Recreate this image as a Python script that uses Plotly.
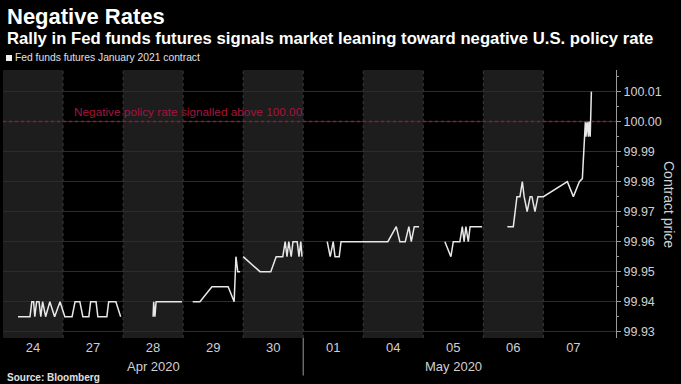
import plotly.graph_objects as go

# ---- data ----
day_labels = ["24", "27", "28", "29", "30", "01", "04", "05", "06", "07"]
month_labels = ["Apr 2020", "May 2020"]
month_first_day = [0, 5]      # index of first trading day of each month
month_day_count = [5, 5]
shaded_days = [0, 2, 4, 6, 8]  # alternating session shading
threshold = 100.00
threshold_label = "Negative policy rate signalled above 100.00"
series_name = "Fed funds futures January 2021 contract"
y_ticks = [99.93, 99.94, 99.95, 99.96, 99.97, 99.98, 99.99, 100.00, 100.01]

# position in trading-day units (0 = start of Apr 24 session)
t = [0.25, 0.45, 0.48, 0.51, 0.53, 0.56, 0.60, 0.63, 0.66, 0.71, 0.78, 0.86, 0.95, 1.03,
     1.15, 1.20, 1.28, 1.33, 1.43, 1.46, 1.55, 1.58, 1.73, 1.76, 1.88, 1.96,
     None,
     2.50, 2.51, 2.53, 2.55, 2.58, 2.98,
     None,
     3.16, 3.28, 3.48, 3.75, 3.85, 3.88, 3.91, 3.95,
     None,
     4.00, 4.28, 4.46, 4.55, 4.66, 4.70, 4.73, 4.76, 4.80, 4.83, 4.90, 4.93, 4.96, 4.98,
     None,
     5.40, 5.45, 5.50, 5.53, 5.60, 5.63, 6.41, 6.55, 6.61, 6.70, 6.76, 6.80, 6.85, 6.93,
     None,
     7.36, 7.46, 7.50, 7.61, 7.65, 7.68, 7.71, 7.75, 7.78, 7.98,
     None,
     8.40, 8.50, 8.56, 8.61, 8.65, 8.68, 8.73, 8.78, 8.81, 8.86, 8.91, 9.00, 9.40, 9.50,
     9.60, 9.65, 9.66, 9.70, 9.71, 9.73, 9.75, 9.76, 9.78, 9.80]
price = [99.935, 99.935, 99.94, 99.94, 99.935, 99.94, 99.94, 99.935, 99.94, 99.935, 99.94, 99.935,
         99.94, 99.935, 99.935, 99.94, 99.94, 99.935, 99.935, 99.94, 99.94, 99.935, 99.935, 99.94,
         99.94, 99.935,
         None,
         99.935, 99.94, 99.935, 99.94, 99.94, 99.94,
         None,
         99.94, 99.94, 99.945, 99.945, 99.94, 99.955, 99.95, 99.95,
         None,
         99.955, 99.95, 99.95, 99.955, 99.955, 99.96, 99.955, 99.96, 99.955, 99.96, 99.96, 99.955,
         99.96, 99.955,
         None,
         99.96, 99.955, 99.96, 99.955, 99.955, 99.96, 99.96, 99.965, 99.96, 99.96, 99.965, 99.96,
         99.965, 99.965,
         None,
         99.96, 99.955, 99.96, 99.96, 99.965, 99.96, 99.965, 99.96, 99.965, 99.965,
         None,
         99.965, 99.965, 99.975, 99.975, 99.98, 99.975, 99.97, 99.975, 99.975, 99.97, 99.975,
         99.975, 99.98, 99.975, 99.98, 99.981, 99.985, 100.0, 99.995, 100.0, 99.995, 100.0,
         99.995, 100.01]

# ---- figure ----
BG = "#000000"
TXT = "#d0d0d0"
FONT = "Liberation Sans, Arial, sans-serif"
FONT_B = "Liberation Sans, Arial, sans-serif"

fig = go.Figure()
fig.add_trace(go.Scatter(x=t, y=price, mode="lines", connectgaps=False, name=series_name,
                         line=dict(color="#e8e8e8", width=1.5), showlegend=False,
                         hoverinfo="skip"))

shapes = []
for d in shaded_days:
    shapes.append(dict(type="rect", xref="x", yref="paper", x0=d, x1=d + 1, y0=0, y1=1,
                       fillcolor="#1d1d1d", line=dict(width=0), layer="below"))
for d in range(1, len(day_labels)):
    shapes.append(dict(type="line", xref="x", yref="paper", x0=d, x1=d, y0=0, y1=1,
                       line=dict(color="#3a3a3a", width=1, dash="dot"), layer="below"))
shapes.append(dict(type="line", xref="paper", yref="y", x0=0, x1=1, y0=threshold, y1=threshold,
                   line=dict(color="#8c1d3e", width=1.5, dash="dot")))
# month separator below axis
shapes.append(dict(type="line", xref="x", yref="paper", x0=month_first_day[1], x1=month_first_day[1],
                   y0=0, y1=-0.14, line=dict(color="#9a9a9a", width=1)))
# legend swatch
shapes.append(dict(type="rect", xref="paper", yref="paper",
                   x0=(6 - 3) / 613, x1=(12 - 3) / 613, y0=(338 - 61) / 268, y1=(338 - 55) / 268,
                   fillcolor="#f0f0f0", line=dict(width=0)))
fig.update_layout(shapes=shapes)

ann = []
ann.append(dict(text="<b>Negative Rates</b>", xref="paper", yref="paper", x=0, y=1.198,
                xanchor="left", yanchor="middle", xshift=2, showarrow=False,
                font=dict(family=FONT_B, size=22, color="#ffffff")))
ann.append(dict(text="<b>Rally in Fed funds futures signals market leaning toward negative U.S. policy rate</b>",
                xref="paper", yref="paper", x=0, y=1.119, xanchor="left", yanchor="middle",
                xshift=2, showarrow=False, font=dict(family=FONT_B, size=16.7, color="#ffffff")))
ann.append(dict(text=series_name, xref="paper", yref="paper",
                x=0, y=1.045, xanchor="left", yanchor="middle", xshift=10, showarrow=False,
                font=dict(family=FONT, size=10.3, color="#e0e0e0")))
ann.append(dict(text="<b>Source: Bloomberg</b>", xref="paper", yref="paper", x=0, y=-0.149,
                xanchor="left", yanchor="middle", xshift=2, showarrow=False,
                font=dict(family=FONT_B, size=10, color="#e0e0e0")))
for lbl, first, cnt in zip(month_labels, month_first_day, month_day_count):
    ann.append(dict(text=lbl, xref="x", yref="paper", x=first + cnt / 2, y=-0.1045,
                    xanchor="center", yanchor="middle", showarrow=False,
                    font=dict(family=FONT, size=13, color=TXT)))
ann.append(dict(text=threshold_label, xref="x", yref="y", x=1.15, y=threshold,
                xanchor="left", yanchor="bottom", yshift=1, showarrow=False,
                font=dict(family=FONT, size=11.8, color="#a3163f")))
ann.append(dict(text="Contract price", xref="paper", yref="paper", x=1 + (669 - 616) / 613,
                y=0.5, xanchor="center", yanchor="middle", textangle=90, showarrow=False,
                font=dict(family=FONT, size=14, color=TXT)))
fig.update_layout(annotations=ann)

fig.update_layout(
    width=681, height=384,
    margin=dict(l=3, r=65, t=70, b=46),
    paper_bgcolor=BG, plot_bgcolor=BG,
    xaxis=dict(range=[0, 10.21], tickvals=[i + 0.5 for i in range(len(day_labels))],
               ticktext=day_labels, showgrid=False, zeroline=False, showline=False,
               ticks="", tickfont=dict(family=FONT, size=13, color=TXT), fixedrange=True),
    yaxis=dict(side="right", range=[99.9279, 100.0172], tickvals=y_ticks, tickformat=".2f",
               showgrid=True, gridcolor="#2c2c2c", gridwidth=1, zeroline=False,
               showline=True, linecolor="#9a9a9a", linewidth=1,
               ticks="outside", ticklen=4, tickcolor="#9a9a9a",
               minor=dict(dtick=0.005, tick0=99.93, ticks="outside", ticklen=2,
                          tickcolor="#9a9a9a", showgrid=False),
               tickfont=dict(family=FONT, size=12.5, color=TXT), fixedrange=True),
)

fig.write_html("out.html", config={"displayModeBar": False},
               post_script="document.body.style.margin='0';document.body.style.background='#000';")
